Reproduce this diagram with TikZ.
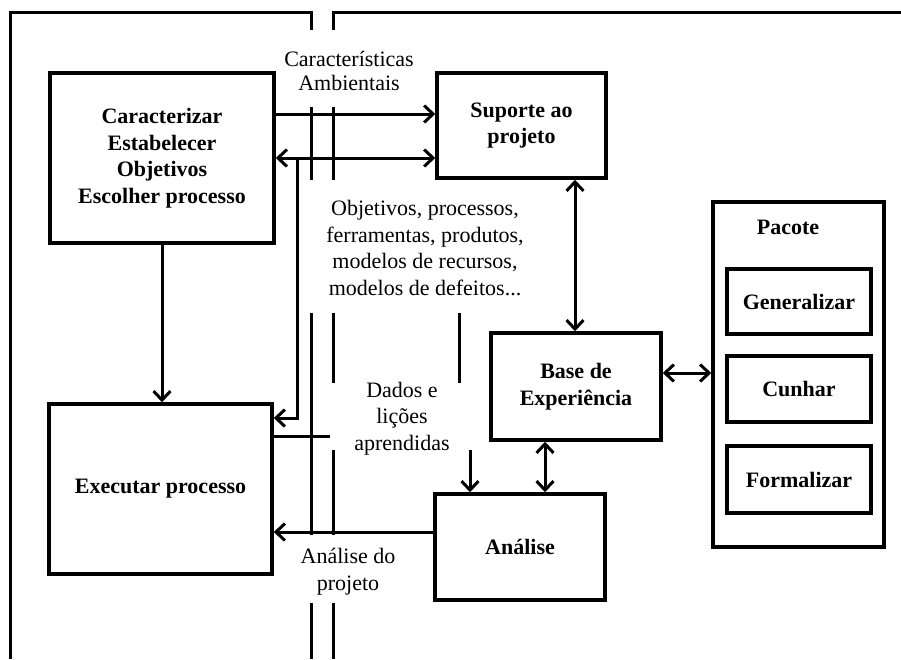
\documentclass[tikz,border=0pt]{standalone}
\usepackage{fontspec}
\setmainfont{Liberation Serif}
\usetikzlibrary{arrows.meta}

\newcommand\bxfont{\fontsize{22}{26.5}\selectfont\bfseries}
\newcommand\lbfont{\fontsize{22}{26.5}\selectfont}

\tikzset{
  box/.style={draw, line width=3.5pt, inner sep=0pt, align=center, font=\bxfont},
  lbl/.style={inner sep=0pt, align=center, font=\lbfont},
  conn/.style={line width=3pt},
  barb/.tip={Straight Barb[length=9pt,width=17pt]},
  arr/.style={conn, -barb},
  arrs/.style={conn, barb-barb},
  cut/.style={line width=3pt},
}

\begin{document}
\begin{tikzpicture}[x=1pt,y=-1pt]
\useasboundingbox (0,0) rectangle (901,659);

% outer boundary, split by the gap
\draw[cut] (10,659) -- (10,12) -- (311,12) -- (311,30);
\draw[cut] (333,30) -- (333,12) -- (901,12);

% main boxes
\node[box, minimum width=224pt, minimum height=170pt] (car) at (162,158)
  {Caracterizar\\Estabelecer\\Objetivos\\Escolher processo};
\node[box, minimum width=169pt, minimum height=105pt] (sup) at (521.5,125.5)
  {Suporte ao\\projeto};
\node[box, minimum width=170pt, minimum height=107pt] (base) at (576,386.5)
  {Base de\\Experiência};
\node[box, minimum width=170pt, minimum height=106pt] (ana) at (520,547)
  {Análise};
\node[box, minimum width=223pt, minimum height=170pt] (exe) at (160.5,489)
  {Executar processo};

% package box with its three steps
\node[box, minimum width=171pt, minimum height=345pt] (pac) at (798.5,374.5) {};
\node[lbl, font=\bxfont] (pactitle) at (788,227) {Pacote};
\node[box, minimum width=144pt, minimum height=65pt] (gen) at (799,301.5) {Generalizar};
\node[box, minimum width=144pt, minimum height=66pt] (cun) at (799,389) {Cunhar};
\node[box, minimum width=144pt, minimum height=67pt] (frm) at (799,479.5) {Formalizar};

% reference levels for the connectors
\coordinate (yA) at (0,114);
\coordinate (yB) at (0,158);
\coordinate (yC) at (0,418);
\coordinate (yD) at (0,436);
\coordinate (yE) at (0,532);
\coordinate (yP) at (0,373);
\coordinate (xS) at (575,0);
\coordinate (xA) at (545,0);
\coordinate (xD) at (470,0);
\coordinate (br) at (297,158);
\coordinate (dEnd) at (330,436);
\coordinate (dStart) at (470,450);

% connectors
\draw[arr] (car.east |- yA) -- (sup.west |- yA);
\draw[arrs] (car.east |- yB) -- (sup.west |- yB);
\draw[arr] (br) |- (exe.east |- yC);
\draw[arr] (car.south) -- (car.south |- exe.north);
\draw[arrs] (sup.south -| xS) -- (base.north -| xS);
\draw[arrs] (base.east |- yP) -- (pac.west |- yP);
\draw[arrs] (base.south -| xA) -- (ana.north -| xA);
\draw[arr] (ana.west |- yE) -- (exe.east |- yE);
\draw[conn] (exe.east |- yD) -- (dEnd);
\draw[arr] (dStart) -- (ana.north -| xD);

% the split lines through the middle
\draw[cut] (311,107) -- (311,180) (333,107) -- (333,180);
\draw[cut] (311,313) -- (311,535) (333,313) -- (333,383) (333,450) -- (333,535);
\draw[cut] (311,603) -- (311,659) (333,603) -- (333,659);
\draw[cut] (459,313) -- (459,383);

% flow labels
\node[lbl, font=\fontsize{22}{24}\selectfont] (lamb) at (349,71) {Características\\Ambientais};
\node[lbl] (lobj) at (425,248) {Objetivos, processos,\\ferramentas, produtos,\\modelos de recursos,\\modelos de defeitos...};
\node[lbl] (ldad) at (402,418.5) {Dados e\\lições\\aprendidas};
\node[lbl] (lana) at (348,571.5) {Análise do\\projeto};
\end{tikzpicture}
\end{document}
